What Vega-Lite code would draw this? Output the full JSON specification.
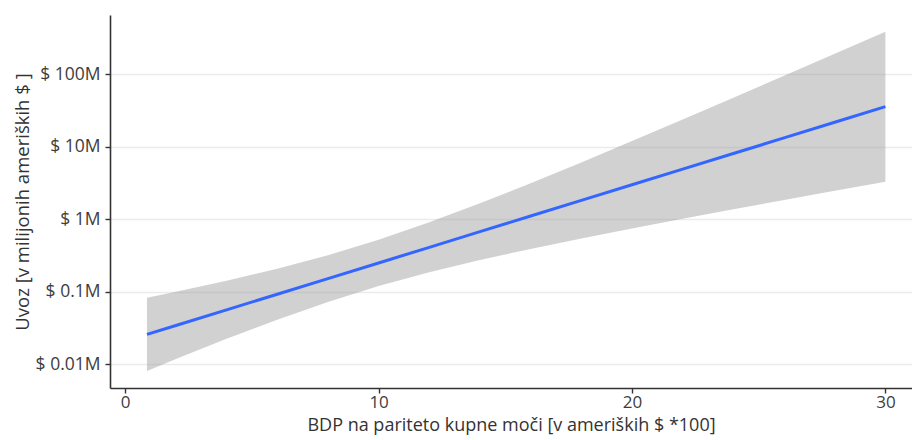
{
  "$schema": "https://vega.github.io/schema/vega-lite/v6.json",
  "width": 802,
  "height": 373,
  "autosize": {"type": "none"},
  "padding": {"left": 110, "top": 15, "right": 0, "bottom": 52},
  "background": "white",
  "config": {"view": {"stroke": null}, "font": "Open Sans"},
  "data": {
    "values": [
      {"x": 0.86, "fit": 0.02599, "lo": 0.008123, "hi": 0.08311},
      {"x": 2, "fit": 0.03449, "lo": 0.01184, "hi": 0.1004},
      {"x": 4, "fit": 0.05665, "lo": 0.02253, "hi": 0.1425},
      {"x": 6, "fit": 0.09307, "lo": 0.04147, "hi": 0.2088},
      {"x": 8, "fit": 0.1529, "lo": 0.07281, "hi": 0.3211},
      {"x": 10, "fit": 0.2512, "lo": 0.1203, "hi": 0.5246},
      {"x": 12, "fit": 0.4126, "lo": 0.1866, "hi": 0.9125},
      {"x": 14, "fit": 0.6779, "lo": 0.2755, "hi": 1.668},
      {"x": 16, "fit": 1.114, "lo": 0.3925, "hi": 3.16},
      {"x": 18, "fit": 1.83, "lo": 0.5469, "hi": 6.122},
      {"x": 20, "fit": 3.006, "lo": 0.7507, "hi": 12.04},
      {"x": 22, "fit": 4.939, "lo": 1.021, "hi": 23.89},
      {"x": 24, "fit": 8.114, "lo": 1.379, "hi": 47.72},
      {"x": 26, "fit": 13.33, "lo": 1.854, "hi": 95.81},
      {"x": 28, "fit": 21.89, "lo": 2.485, "hi": 193.0},
      {"x": 30, "fit": 35.97, "lo": 3.322, "hi": 389.5}
    ]
  },
  "encoding": {
    "x": {
      "field": "x",
      "type": "quantitative",
      "scale": {"domain": [-0.6, 31.05], "nice": false, "zero": false},
      "axis": {
        "title": "BDP na pariteto kupne moči [v ameriških $ *100]",
        "values": [0, 10, 20, 30],
        "grid": false,
        "tickSize": 5,
        "tickColor": "#333333",
        "tickWidth": 1.4,
        "domainColor": "#333333",
        "domainWidth": 1.6,
        "labelFontSize": 17,
        "labelColor": "#3d3d3d",
        "labelPadding": 1,
        "titleFontSize": 18,
        "titleFontWeight": "normal",
        "titleColor": "#333333",
        "titlePadding": 6
      }
    }
  },
  "layer": [
    {
      "mark": {"type": "area", "color": "#999999", "opacity": 0.45},
      "encoding": {
        "y": {
          "field": "lo",
          "type": "quantitative",
          "scale": {"type": "log", "domain": [0.004732, 660.7], "nice": false},
          "axis": {
            "title": "Uvoz [v milijonih ameriških $ ]",
            "values": [0.01, 0.1, 1, 10, 100],
            "labelExpr": "'$ ' + datum.value + 'M'",
            "grid": true,
            "gridColor": "#ebebeb",
            "gridWidth": 1.5,
            "tickSize": 5,
            "tickColor": "#333333",
            "tickWidth": 1.4,
            "domainColor": "#333333",
            "domainWidth": 1.6,
            "labelFontSize": 17.5,
            "labelColor": "#3d3d3d",
            "labelPadding": 5,
            "titleFontSize": 18.5,
            "titleFontWeight": "normal",
            "titleColor": "#333333",
            "titlePadding": 3
          }
        },
        "y2": {"field": "hi"}
      }
    },
    {
      "mark": {"type": "line", "color": "#3366FF", "strokeWidth": 3},
      "encoding": {
        "y": {"field": "fit", "type": "quantitative"}
      }
    }
  ]
}
